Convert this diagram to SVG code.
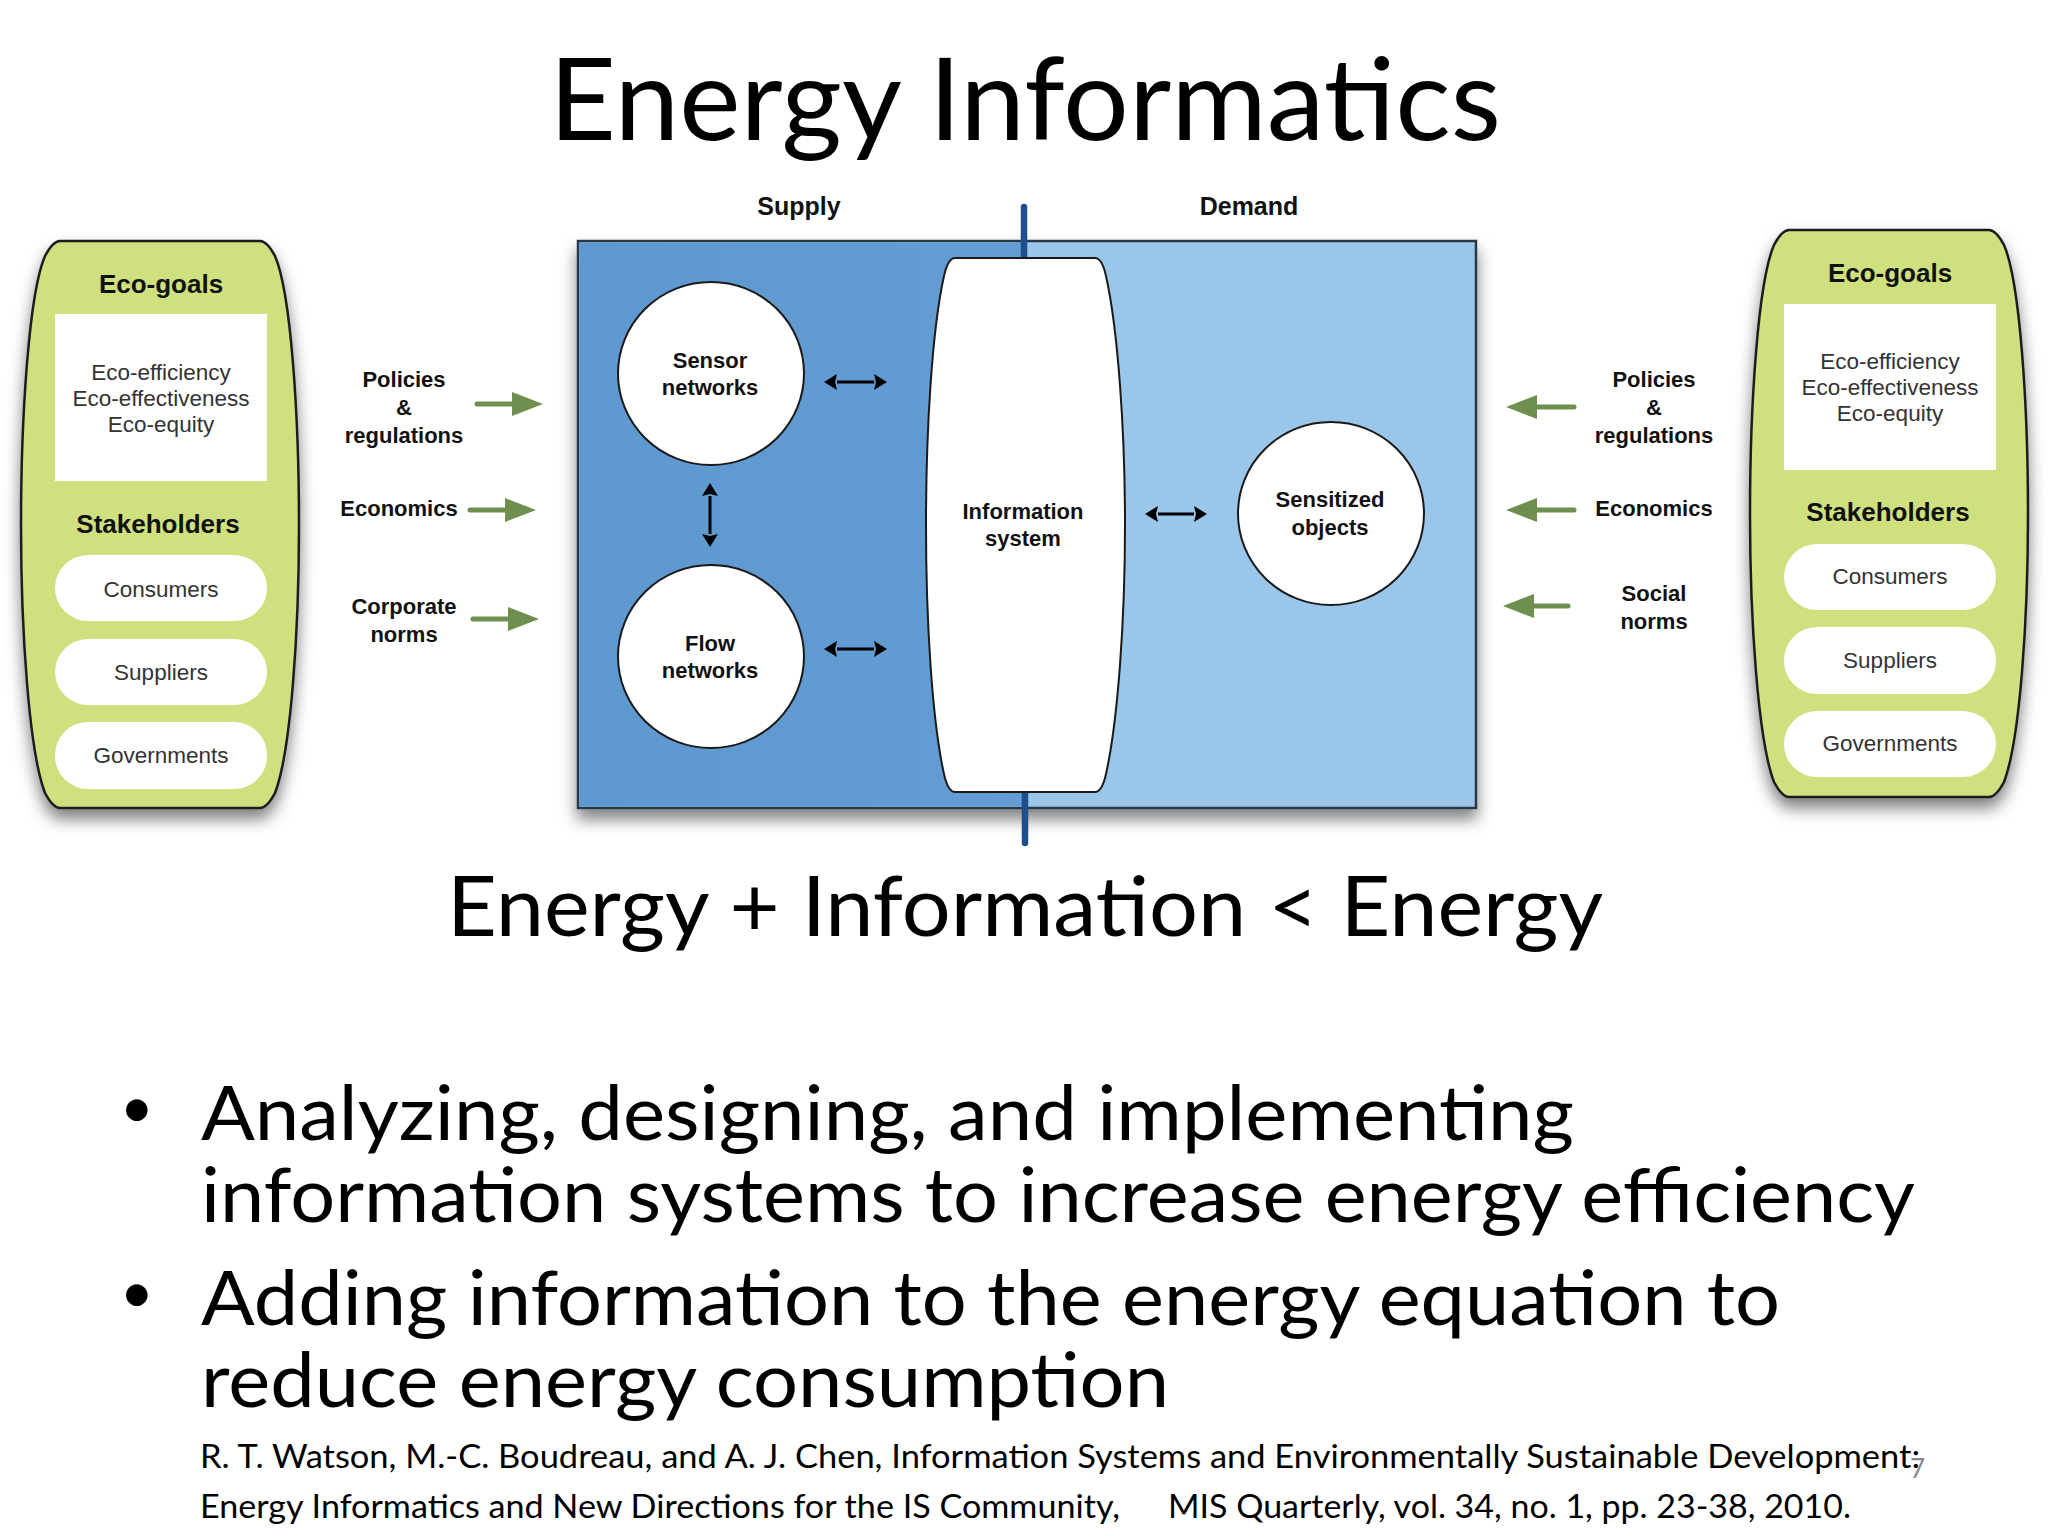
<svg xmlns="http://www.w3.org/2000/svg" width="2048" height="1536" viewBox="0 0 2048 1536">
<style>
.slide{font-family:"Lato","Open Sans",sans-serif;fill:#000}
.h{font-family:"Liberation Sans",Arial,sans-serif;font-weight:700;fill:#111;text-anchor:middle}
.r{font-family:"Liberation Sans",Arial,sans-serif;fill:#333;text-anchor:middle}
.s22{font-size:22px}.s26{font-size:26px}.s25{font-size:25px}.s23{font-size:22.5px}
.body{font-size:76px}.cite{font-size:32px}
.panel{fill:#cfe07e;stroke:#1d1d1d;stroke-width:2.5;filter:url(#sh)}
.pill{fill:#fff}
.circ{fill:#fff;stroke:#1a1a1a;stroke-width:2}
.g{stroke:#6e8f4e;stroke-width:5;fill:none;stroke-linecap:round;marker-end:url(#ga)}
.k{stroke:#000;stroke-width:3;fill:none;marker-start:url(#ka);marker-end:url(#ka)}
</style>
<defs>
<filter id="sh" x="-10%" y="-5%" width="120%" height="115%"><feDropShadow dx="0" dy="10" stdDeviation="8" flood-color="#000" flood-opacity="0.5"/></filter>
<marker id="ga" markerUnits="userSpaceOnUse" markerWidth="34" markerHeight="26" refX="0" refY="12" orient="auto"><path d="M0 0L31 12L0 24Z" fill="#6e8f4e"/></marker>
<marker id="ka" markerUnits="userSpaceOnUse" markerWidth="16" markerHeight="18" refX="0" refY="8" orient="auto-start-reverse"><path d="M0 0L13 8L0 16L2 8Z" fill="#000"/></marker>
<path id="panel" d="M60 0L260 0Q267 0 275 15C291 52 299 175 299 284C299 390 291 510 275 552Q267 567 260 567L60 567Q53 567 45 552C29 510 21 390 21 284C21 175 29 52 45 15Q53 0 60 0Z"/>
<linearGradient id="lb" x1="0" x2="1" y1="0" y2="0"><stop offset="0" stop-color="#5e98d0"/><stop offset="1" stop-color="#639dd3"/></linearGradient>
</defs>

<g id="title"><text class="slide" x="549" y="140" font-size="114" textLength="952" lengthAdjust="spacingAndGlyphs">Energy Informatics</text></g>

<g id="left-panel">
<use href="#panel" y="241" class="panel"/>
<rect class="pill" x="55" y="314" width="212" height="167"/>
<text class="h s26" x="161" y="293">Eco-goals</text>
<text class="r s23" x="161" y="380">Eco-efficiency</text>
<text class="r s23" x="161" y="406">Eco-effectiveness</text>
<text class="r s23" x="161" y="432">Eco-equity</text>
<text class="h s26" x="158" y="533">Stakeholders</text>
<rect class="pill" x="55" y="555" width="212" height="66" rx="33"/><text class="r s23" x="161" y="597">Consumers</text>
<rect class="pill" x="55" y="639" width="212" height="66" rx="33"/><text class="r s23" x="161" y="680">Suppliers</text>
<rect class="pill" x="55" y="722" width="212" height="67" rx="33"/><text class="r s23" x="161" y="763">Governments</text>
</g>

<g id="right-panel">
<use href="#panel" x="1729" y="230" class="panel"/>
<rect class="pill" x="1784" y="304" width="212" height="166"/>
<text class="h s26" x="1890" y="282">Eco-goals</text>
<text class="r s23" x="1890" y="369">Eco-efficiency</text>
<text class="r s23" x="1890" y="395">Eco-effectiveness</text>
<text class="r s23" x="1890" y="421">Eco-equity</text>
<text class="h s26" x="1888" y="521">Stakeholders</text>
<rect class="pill" x="1784" y="544" width="212" height="66" rx="33"/><text class="r s23" x="1890" y="584">Consumers</text>
<rect class="pill" x="1784" y="627" width="212" height="67" rx="33"/><text class="r s23" x="1890" y="668">Suppliers</text>
<rect class="pill" x="1784" y="711" width="212" height="66" rx="33"/><text class="r s23" x="1890" y="751">Governments</text>
</g>

<g id="left-labels">
<text class="h s22" x="404" y="387">Policies</text><text class="h s22" x="404" y="415">&amp;</text><text class="h s22" x="404" y="443">regulations</text>
<text class="h s22" x="399" y="516">Economics</text>
<text class="h s22" x="404" y="614">Corporate</text><text class="h s22" x="404" y="642">norms</text>
</g>
<g id="right-labels">
<text class="h s22" x="1654" y="387">Policies</text><text class="h s22" x="1654" y="415">&amp;</text><text class="h s22" x="1654" y="443">regulations</text>
<text class="h s22" x="1654" y="516">Economics</text>
<text class="h s22" x="1654" y="601">Social</text><text class="h s22" x="1654" y="629">norms</text>
</g>

<g id="supply-demand">
<rect x="578" y="241" width="898" height="567" fill="#9ac6ea" stroke="#2c3945" stroke-width="2.5" filter="url(#sh)"/>
<rect x="579.5" y="242.5" width="445.5" height="564" fill="url(#lb)"/>
<line x1="1024" y1="207" x2="1024" y2="258" stroke="#1d4f8e" stroke-width="6.5" stroke-linecap="round"/>
<line x1="1025" y1="792" x2="1025" y2="843" stroke="#1d4f8e" stroke-width="6.5" stroke-linecap="round"/>
<text class="h s25" x="799" y="215">Supply</text>
<text class="h s25" x="1249" y="215">Demand</text>
</g>

<g id="information-system">
<path class="circ" d="M955 258L1095 258Q1102 258 1106 276C1118 330 1125 430 1125 525C1125 620 1118 720 1106 774Q1102 792 1095 792L955 792Q948 792 944 774C932 720 926 620 926 525C926 430 932 330 944 276Q948 258 955 258Z"/>
<text class="h s22" x="1023" y="519">Information</text><text class="h s22" x="1023" y="546">system</text>
</g>
<g id="sensor-networks"><ellipse class="circ" cx="711" cy="373.500" rx="93" ry="91.500"/><text class="h s22" x="710" y="368">Sensor</text><text class="h s22" x="710" y="395">networks</text></g>
<g id="flow-networks"><ellipse class="circ" cx="711" cy="656.500" rx="93" ry="91.500"/><text class="h s22" x="710" y="651">Flow</text><text class="h s22" x="710" y="678">networks</text></g>
<g id="sensitized-objects"><ellipse class="circ" cx="1331" cy="513.500" rx="93" ry="91.500"/><text class="h s22" x="1330" y="507">Sensitized</text><text class="h s22" x="1330" y="535">objects</text></g>

<g id="connectors">
<line class="g" x1="477" y1="404" x2="512" y2="404"/>
<line class="g" x1="470" y1="510" x2="505" y2="510"/>
<line class="g" x1="473" y1="619" x2="508" y2="619"/>
<line class="g" x1="1574" y1="407" x2="1537" y2="407"/>
<line class="g" x1="1574" y1="510" x2="1537" y2="510"/>
<line class="g" x1="1568" y1="606" x2="1534" y2="606"/>
<line class="k" x1="837" y1="382" x2="874" y2="382"/>
<line class="k" x1="837" y1="649" x2="874" y2="649"/>
<line class="k" x1="1158" y1="514" x2="1194" y2="514"/>
<line class="k" x1="710" y1="496" x2="710" y2="534"/>
</g>

<g id="equation"><text class="slide" x="447" y="936" font-size="84" textLength="1156" lengthAdjust="spacingAndGlyphs">Energy + Information &lt; Energy</text></g>

<g id="bullets">
<text class="slide" x="120" y="1128" font-size="58">•</text>
<text class="slide" x="120" y="1313" font-size="58">•</text>
<text class="slide body" x="201" y="1140" textLength="1373" lengthAdjust="spacingAndGlyphs">Analyzing, designing, and implementing</text>
<text class="slide body" x="201" y="1222" textLength="1714" lengthAdjust="spacingAndGlyphs">information systems to increase energy efficiency</text>
<text class="slide body" x="201" y="1325" textLength="1579" lengthAdjust="spacingAndGlyphs">Adding information to the energy equation to</text>
<text class="slide body" x="201" y="1407" textLength="968" lengthAdjust="spacingAndGlyphs">reduce energy consumption</text>
</g>

<g id="citation">
<text class="slide cite" x="200" y="1468" textLength="1720" lengthAdjust="spacingAndGlyphs">R. T. Watson, M.-C. Boudreau, and A. J. Chen, Information Systems and Environmentally Sustainable Development:</text>
<text class="slide cite" x="200" y="1518" textLength="920" lengthAdjust="spacingAndGlyphs">Energy Informatics and New Directions for the IS Community,</text>
<text class="slide cite" x="1168" y="1518" textLength="683" lengthAdjust="spacingAndGlyphs">MIS Quarterly, vol. 34, no. 1, pp. 23-38, 2010.</text>
<text class="slide" x="1910" y="1478" font-size="26" style="fill:#8a8a8a">7</text>
</g>
</svg>
